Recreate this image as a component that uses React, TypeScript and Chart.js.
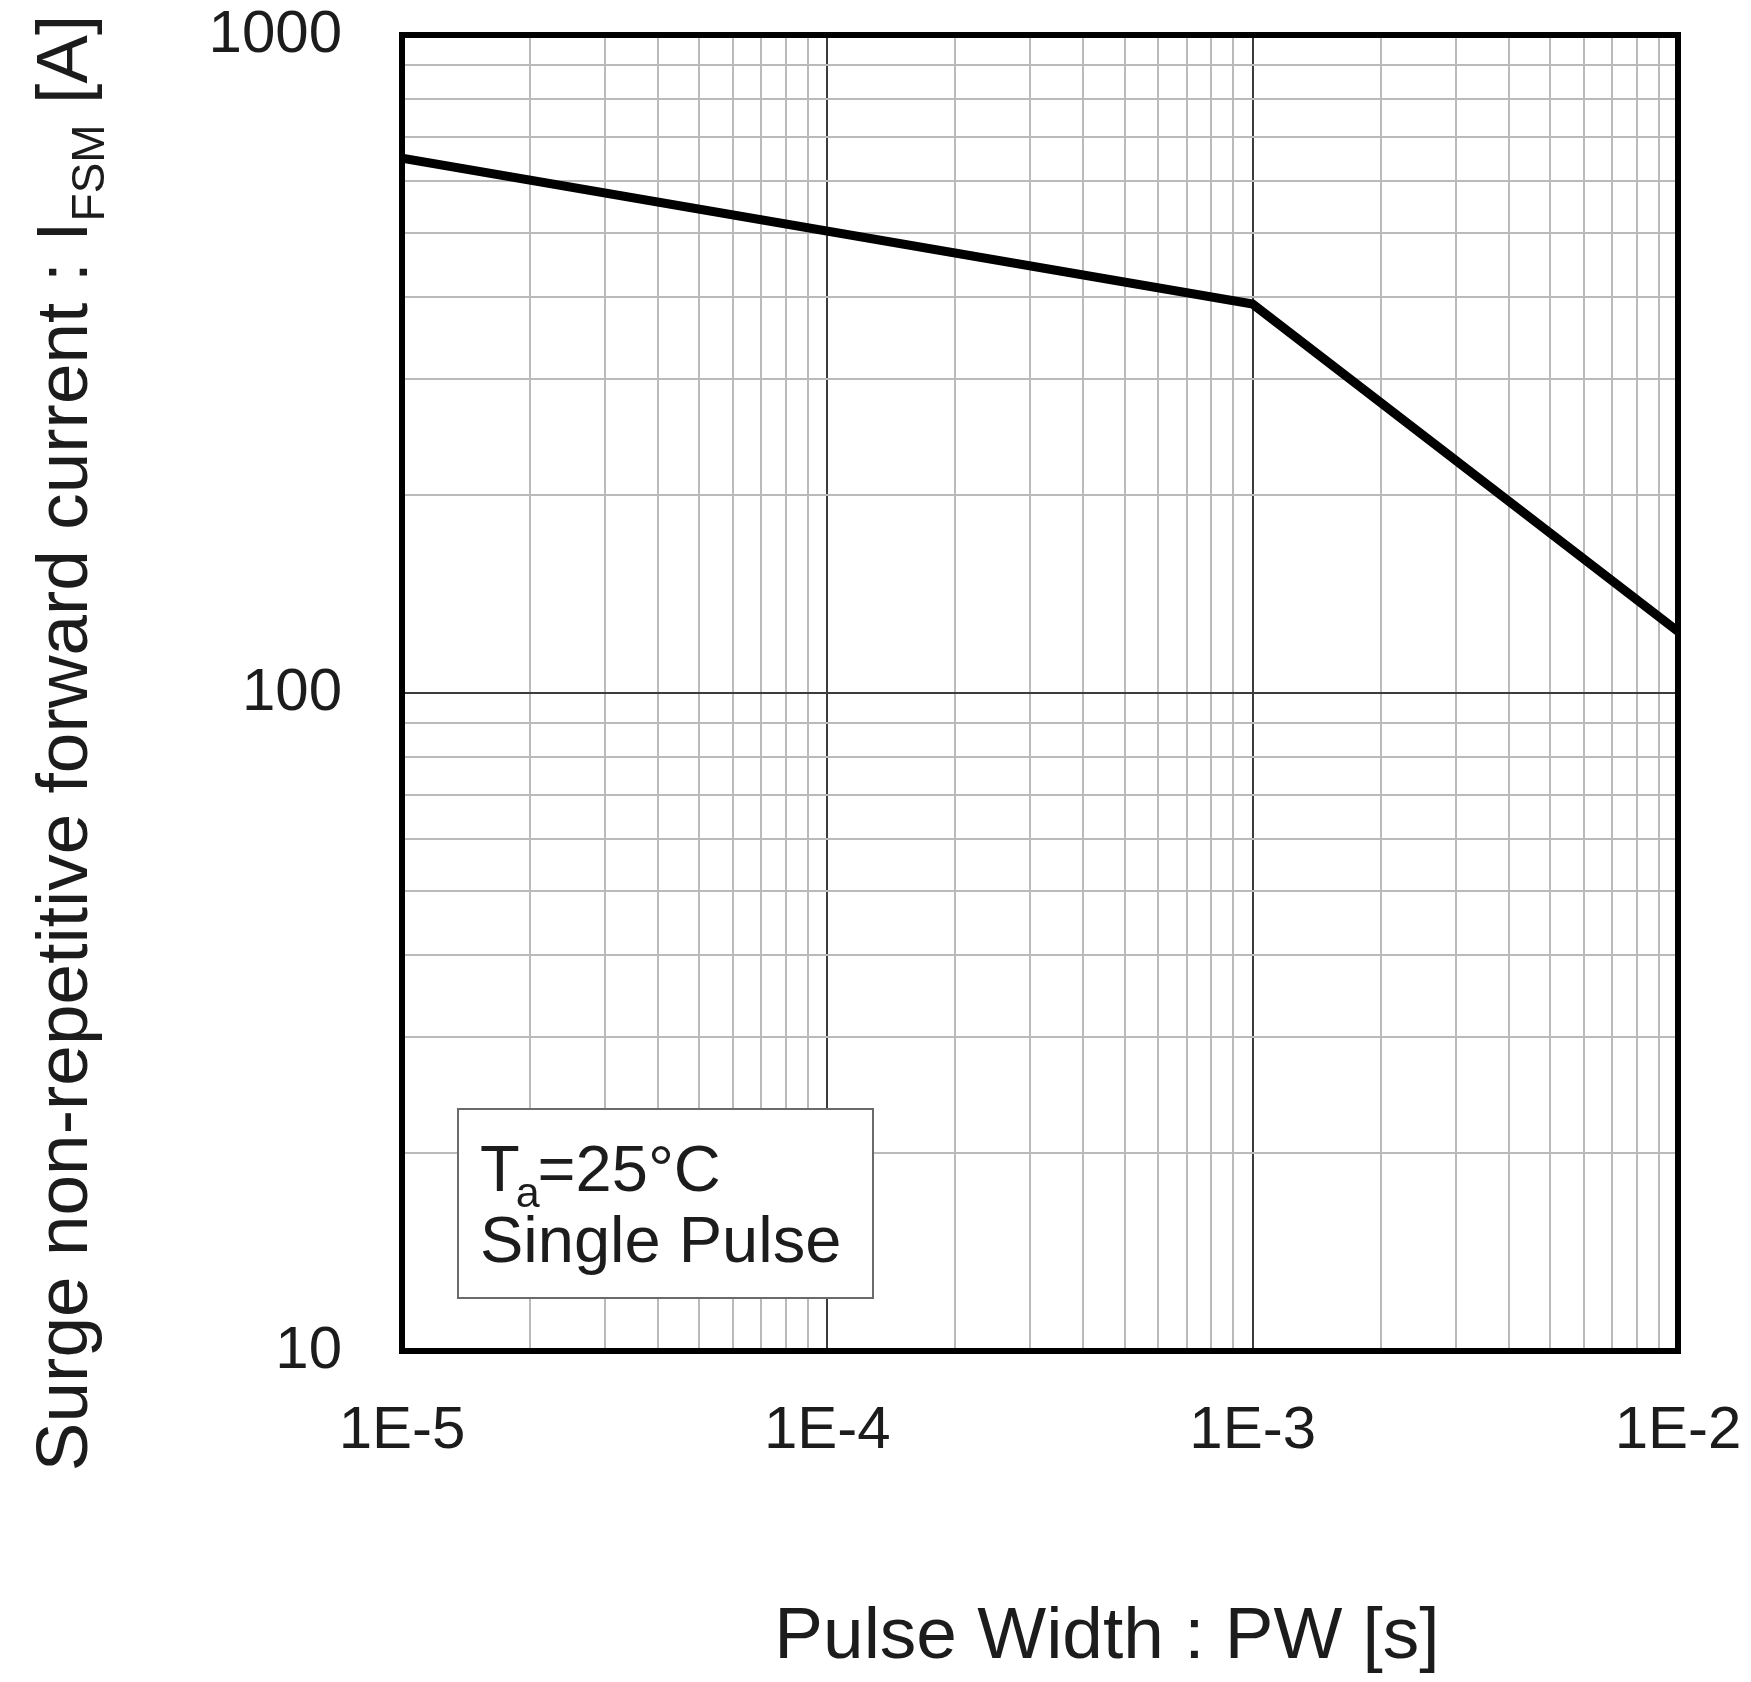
import React, { useEffect, useRef } from 'react';
import { Chart, registerables } from 'chart.js';

Chart.register(...registerables);

// ---- data ----
const pulseWidth = [1e-5, 1e-3, 1e-2];
const surgeCurrent = [650, 390, 124];

const xDecades = [1e-5, 1e-4, 1e-3, 1e-2];
const xDecadeLabels = ['1E-5', '1E-4', '1E-3', '1E-2'];
const yDecades = [10, 100, 1000];
const yDecadeLabels = ['10', '100', '1000'];
const gridMultipliers = [1, 2, 3, 4, 5, 6, 7, 8, 9];

const xTitle = 'Pulse Width : PW [s]';
const yTitleMain = 'Surge non-repetitive forward current : I';
const yTitleSub = 'FSM';
const yTitleEnd = ' [A]';
const noteT = 'T';
const noteSub = 'a';
const noteRest = '=25°C';
const noteLine2 = 'Single Pulse';

const FONT = '"Liberation Sans", Arial, Helvetica, sans-serif';

function buildTicks(decades: number[]) {
  const out: number[] = [];
  for (let i = 0; i < decades.length - 1; i++) {
    for (const m of gridMultipliers) out.push(decades[i] * m);
  }
  out.push(decades[decades.length - 1]);
  return out;
}

function decadeIndex(decades: number[], v: number) {
  return decades.findIndex((d) => Math.abs(v / d - 1) < 1e-6);
}

const overlayPlugin = {
  id: 'overlay',
  afterDatasetsDraw(chart: any) {
    const { ctx, chartArea: a } = chart;
    ctx.save();
    // note box
    const bx = a.left + 56;
    const by = a.top + 1074;
    const bw = 415;
    const bh = 189;
    ctx.fillStyle = '#ffffff';
    ctx.fillRect(bx, by, bw, bh);
    ctx.strokeStyle = '#6a6a6a';
    ctx.lineWidth = 2;
    ctx.strokeRect(bx, by, bw, bh);
    ctx.fillStyle = '#1c1c1c';
    ctx.textAlign = 'left';
    ctx.textBaseline = 'alphabetic';
    ctx.font = `65px ${FONT}`;
    let tx = bx + 22;
    const line1 = by + 82;
    ctx.fillText(noteT, tx, line1);
    tx += ctx.measureText(noteT).width;
    ctx.font = `43px ${FONT}`;
    ctx.fillText(noteSub, tx - 4, line1 + 16);
    tx += ctx.measureText(noteSub).width - 6;
    ctx.font = `65px ${FONT}`;
    ctx.fillText(noteRest, tx, line1);
    ctx.fillText(noteLine2, bx + 22, by + 153);

    // plot frame
    ctx.strokeStyle = '#000000';
    ctx.lineWidth = 6;
    ctx.strokeRect(a.left, a.top, a.right - a.left, a.bottom - a.top);
    ctx.restore();
  },
  afterDraw(chart: any) {
    const { ctx } = chart;
    ctx.save();
    ctx.fillStyle = '#1c1c1c';
    // x title
    ctx.font = `73px ${FONT}`;
    ctx.textAlign = 'center';
    ctx.textBaseline = 'alphabetic';
    ctx.fillText(xTitle, 1107, 1658);

    // y title (rotated, with subscript)
    ctx.translate(87, 743);
    ctx.rotate(-Math.PI / 2);
    ctx.textAlign = 'left';
    const mainFont = `73px ${FONT}`;
    const subFont = `46px ${FONT}`;
    ctx.font = mainFont;
    const w1 = ctx.measureText(yTitleMain).width;
    const w3 = ctx.measureText(yTitleEnd).width;
    ctx.font = subFont;
    const w2 = ctx.measureText(yTitleSub).width;
    const total = w1 + w2 + w3;
    let x = -total / 2;
    ctx.font = mainFont;
    ctx.fillText(yTitleMain, x, 0);
    x += w1;
    ctx.font = subFont;
    ctx.fillText(yTitleSub, x, 17);
    x += w2;
    ctx.font = mainFont;
    ctx.fillText(yTitleEnd, x, 0);
    ctx.restore();
  },
};

export default function App() {
  const canvasRef = useRef<HTMLCanvasElement | null>(null);

  useEffect(() => {
    if (!canvasRef.current) return;
    const xTicks = buildTicks(xDecades);
    const yTicks = buildTicks(yDecades);

    const gridColor = (decades: number[]) => (c: any) =>
      c.tick && decadeIndex(decades, c.tick.value) >= 0 ? '#3c3c3c' : '#bababa';

    const chart = new Chart(canvasRef.current, {
      type: 'line',
      data: {
        datasets: [
          {
            data: pulseWidth.map((x, i) => ({ x, y: surgeCurrent[i] })),
            borderColor: '#000000',
            borderWidth: 9,
            pointRadius: 0,
            fill: false,
            tension: 0,
          },
        ],
      },
      options: {
        animation: false,
        responsive: false,
        layout: { padding: { top: 35, right: 73, left: 0, bottom: 0 } },
        plugins: {
          legend: { display: false },
          tooltip: { enabled: false },
          title: { display: false },
        },
        scales: {
          x: {
            type: 'logarithmic',
            min: xDecades[0],
            max: xDecades[xDecades.length - 1],
            afterBuildTicks: (s: any) => {
              s.ticks = xTicks.map((v) => ({ value: v }));
            },
            afterFit: (s: any) => {
              s.height = 331;
              s.paddingLeft = 0;
              s.paddingRight = 0;
              s.paddingTop = 0;
              s.paddingBottom = 0;
            },
            ticks: {
              autoSkip: false,
              maxRotation: 0,
              minRotation: 0,
              padding: 44,
              color: '#1c1c1c',
              font: { family: FONT, size: 60 },
              callback: (v: any) => {
                const i = decadeIndex(xDecades, Number(v));
                return i >= 0 ? xDecadeLabels[i] : '';
              },
            },
            grid: {
              drawTicks: false,
              color: gridColor(xDecades),
              lineWidth: 2,
            },
            border: { display: false },
          },
          y: {
            type: 'logarithmic',
            min: yDecades[0],
            max: yDecades[yDecades.length - 1],
            afterBuildTicks: (s: any) => {
              s.ticks = yTicks.map((v) => ({ value: v }));
            },
            afterFit: (s: any) => {
              s.width = 402;
              s.paddingLeft = 0;
              s.paddingRight = 0;
              s.paddingTop = 0;
              s.paddingBottom = 0;
            },
            ticks: {
              autoSkip: false,
              padding: 60,
              color: '#1c1c1c',
              font: { family: FONT, size: 60 },
              callback: (v: any) => {
                const i = decadeIndex(yDecades, Number(v));
                return i >= 0 ? yDecadeLabels[i] : '';
              },
            },
            grid: {
              drawTicks: false,
              color: gridColor(yDecades),
              lineWidth: 2,
            },
            border: { display: false },
          },
        },
      },
      plugins: [overlayPlugin],
    } as any);

    return () => chart.destroy();
  }, []);

  return (
    <div style={{ position: 'absolute', left: 0, top: 0, width: 1751, height: 1682, background: '#ffffff' }}>
      <canvas ref={canvasRef} width={1751} height={1682} style={{ display: 'block' }} />
    </div>
  );
}
